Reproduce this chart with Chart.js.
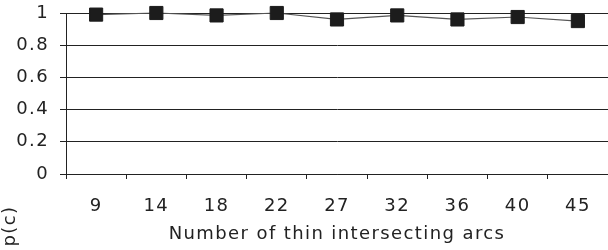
<!DOCTYPE html>
<html>
<head>
<meta charset="utf-8">
<script src="https://cdn.jsdelivr.net/npm/chart.js@4"></script>
<style>
  html, body { margin: 0; padding: 0; background: #fff; }
  #wrap { width: 608px; height: 250px; }
</style>
</head>
<body>
<div id="wrap"><canvas id="myChart" width="608" height="250"></canvas></div>
<script>
'use strict'

// chart data
const arcCounts = ['9', '14', '18', '22', '27', '32', '36', '40', '45'];
const pValues = [0.99, 1.0, 0.985, 1.0, 0.96, 0.985, 0.96, 0.975, 0.95];
const yTicks = [0, 0.2, 0.4, 0.6, 0.8, 1];

const xTitle = 'Number of thin intersecting arcs';
const yTitle = 'p(c)';

const fontFamily = '"DejaVu Sans", Verdana, sans-serif';
const fontSize = 18;
const spacing = '1.4px';

// the reference text is spaced out a bit
const spacingPlugin = {
  id: 'spacing',
  beforeUpdate(chart) { chart.ctx.letterSpacing = spacing; },
  beforeDraw(chart) { chart.ctx.letterSpacing = spacing; }
};

// y title sits low at the left, so draw it by hand
const yTitlePlugin = {
  id: 'yTitle',
  afterDraw(chart) {
    const ctx = chart.ctx;
    ctx.save();
    ctx.translate(10, 226);
    ctx.rotate(-Math.PI / 2);
    ctx.font = fontSize + 'px ' + fontFamily;
    ctx.fillStyle = '#222';
    ctx.textAlign = 'center';
    ctx.textBaseline = 'middle';
    ctx.fillText(yTitle, 0, 0);
    ctx.restore();
  }
};

const data = {
  labels: arcCounts,
  datasets: [{
    data: pValues,
    borderColor: '#555',
    borderWidth: 1.2,
    backgroundColor: '#1c1c1c',
    pointStyle: 'rect',
    pointRadius: 9.3,
    pointBorderColor: '#1c1c1c',
    pointBorderWidth: 1,
    pointHoverRadius: 9.3,
    tension: 0,
    clip: false
  }]
};

const config = {
  type: 'line',
  data: data,
  options: {
    responsive: false,
    animation: false,
    layout: {
      autoPadding: false,
      padding: { top: 13, right: 0, left: 0, bottom: 0 }
    },
    plugins: {
      legend: { display: false },
      tooltip: { enabled: false }
    },
    scales: {
      x: {
        offset: true,
        afterFit(scale) {
          scale.height = 76;
          scale.paddingLeft = 0;
          scale.paddingRight = 0;
        },
        grid: {
          offset: true,
          drawOnChartArea: false,
          drawTicks: true,
          tickLength: 5,
          color: '#222',
          lineWidth: 1
        },
        border: { color: '#222', width: 1 },
        ticks: {
          color: '#222',
          font: { family: fontFamily, size: fontSize },
          padding: 17,
          maxRotation: 0
        },
        title: {
          display: true,
          text: xTitle,
          color: '#222',
          font: { family: fontFamily, size: fontSize },
          padding: { top: 0, bottom: 5 }
        }
      },
      y: {
        min: 0,
        max: 1,
        afterFit(scale) {
          scale.width = 66;
          scale.paddingTop = 0;
          scale.paddingBottom = 0;
        },
        afterBuildTicks(scale) {
          scale.ticks = yTicks.map(v => ({ value: v }));
        },
        grid: {
          color: '#222',
          lineWidth: 1,
          tickLength: 6
        },
        border: { color: '#222', width: 1 },
        ticks: {
          color: '#222',
          font: { family: fontFamily, size: fontSize },
          padding: 11,
          callback: v => String(v)
        }
      }
    }
  },
  plugins: [spacingPlugin, yTitlePlugin]
};

const renderChart = new Chart(document.getElementById('myChart'), config);
</script>
</body>
</html>
